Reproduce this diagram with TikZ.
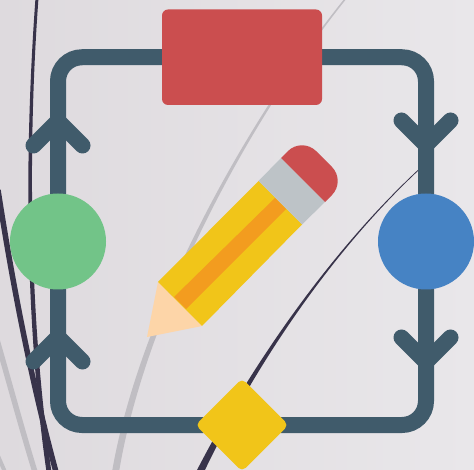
\documentclass[tikz,border=0pt]{standalone}
\usepackage{xcolor}
\usetikzlibrary{shapes.geometric,backgrounds}

\definecolor{slateline}{HTML}{405B6B}
\definecolor{boxred}{HTML}{CB4E4F}
\definecolor{dotgreen}{HTML}{72C488}
\definecolor{dotblue}{HTML}{4683C4}
\definecolor{gemyellow}{HTML}{F1C519}
\definecolor{stripeorange}{HTML}{F39C1F}
\definecolor{ferrulegray}{HTML}{BDC3C7}
\definecolor{woodpeach}{HTML}{FDD5A8}
\definecolor{inkdark}{HTML}{38334A}
\definecolor{smokegray}{HTML}{C0BEC3}
\definecolor{sheetleft}{HTML}{DEDADE}
\definecolor{sheetright}{HTML}{E9E7EA}

\begin{document}
\begin{tikzpicture}[
  x=1pt, y=-1pt,
  procbox/.style={rectangle, fill=boxred, rounded corners=6pt, minimum width=160pt, minimum height=95.5pt, inner sep=0pt, outer sep=0pt},
  stopdot/.style={circle, minimum size=96pt, inner sep=0pt, outer sep=0pt},
  choicegem/.style={diamond, fill=gemyellow, rounded corners=5pt, minimum width=93pt, minimum height=93pt, inner sep=0pt, outer sep=0pt},
  loopline/.style={draw=slateline, line width=16pt, rounded corners=24pt, shorten <=-8pt, shorten >=-8pt},
  tipline/.style={draw=slateline, line width=16pt, line cap=round, line join=round}
]
\useasboundingbox (0,0) rectangle (474,470);

\node[procbox] (redbox) at (242,57.25) {};
\node[stopdot, fill=dotgreen] (greendot) at (58,241.5) {};
\node[stopdot, fill=dotblue] (bluedot) at (426,241.5) {};
\node[choicegem] (yellowgem) at (242,425) {};

\begin{scope}[on background layer]
  \shade[left color=sheetleft, right color=sheetright] (0,0) rectangle (474,470);
  \fill[smokegray] (345,-2) .. controls (239,130) and (138,320) .. (112,472)
    -- (119,472) .. controls (144,321) and (241,130) .. (347,-2) -- cycle;
  \draw[smokegray, line width=5.5pt] (-3,340) .. controls (8,378) and (22,430) .. (35,472);
  \draw[smokegray, line width=4pt] (-2,456) -- (5,472);
  \fill[inkdark] (35.5,-2) .. controls (26.5,120) and (22,300) .. (46.5,472)
    -- (51.5,472) .. controls (26.5,300) and (29.5,120) .. (38.5,-2) -- cycle;
  \draw[inkdark, line width=5.5pt] (-2,190) .. controls (15,300) and (35,395) .. (56,472);
  \fill[inkdark] (426,162.5) .. controls (330,249.5) and (249,369) .. (196,472)
    -- (204,472) .. controls (252,371) and (330.5,250.5) .. (426,163.5) -- cycle;

  \draw[loopline] (redbox) -| (bluedot);
  \draw[loopline] (bluedot) |- (yellowgem);
  \draw[loopline] (yellowgem) -| (greendot);
  \draw[loopline] (greendot) |- (redbox);

  \foreach \px/\py/\dy in {58/121/24.5, 58/337/24.5, 426/145/-24.5, 426/362/-24.5}
    \draw[tipline] (\px-24.5,\py+\dy) -- (\px,\py) -- (\px+24.5,\py+\dy);
\end{scope}

\fill[woodpeach] (147,337) -- (158,282) -- (202,326) -- cycle;
\fill[gemyellow] (158,282) -- (258.5,181) -- (302,224.5) -- (202,326) -- cycle;
\fill[stripeorange] (174,297) -- (275,198) -- (286,209) -- (186,309) -- cycle;
\fill[ferrulegray] (258.5,181) -- (281,158) -- (325,202) -- (302,224.5) -- cycle;
\fill[boxred, rounded corners=20pt] (281,158) -- (302,137) -- (346,181) -- (325,202);
\end{tikzpicture}
\end{document}
